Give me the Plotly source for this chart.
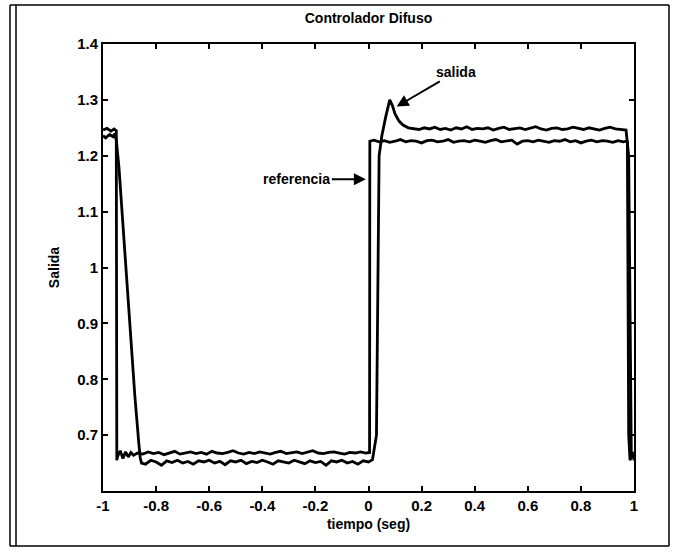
import plotly.graph_objects as go

# ---------------- data ----------------
ref_t = [-1.0, -0.985, -0.97, -0.958, -0.950, -0.948,
         -0.945, -0.935, -0.925, -0.915, -0.905, -0.895, -0.885, -0.87, -0.85, -0.83,
         -0.81, -0.79, -0.77, -0.75, -0.73, -0.71, -0.69, -0.67, -0.65, -0.63,
         -0.61, -0.59, -0.57, -0.55, -0.53, -0.51, -0.49, -0.47, -0.45, -0.43,
         -0.41, -0.39, -0.37, -0.35, -0.33, -0.31, -0.29, -0.27, -0.25, -0.23,
         -0.21, -0.19, -0.17, -0.15, -0.13, -0.11, -0.09, -0.07, -0.05, -0.03,
         -0.01, 0.004, 0.005,
         0.02, 0.04, 0.06, 0.08, 0.10, 0.12, 0.14, 0.16, 0.18, 0.20,
         0.22, 0.24, 0.26, 0.28, 0.30, 0.32, 0.34, 0.36, 0.38, 0.40,
         0.42, 0.44, 0.46, 0.48, 0.50, 0.52, 0.54, 0.56, 0.58, 0.60,
         0.62, 0.64, 0.66, 0.68, 0.70, 0.72, 0.74, 0.76, 0.78, 0.80,
         0.82, 0.84, 0.86, 0.88, 0.90, 0.92, 0.94, 0.96, 0.972,
         0.975, 0.98, 0.985, 0.99, 0.995, 1.0]
ref_y = [1.246, 1.249, 1.244, 1.248, 1.245, 0.655,
         0.662, 0.672, 0.658, 0.670, 0.661, 0.669, 0.664, 0.668, 0.666, 0.670,
         0.667, 0.669, 0.665, 0.668, 0.671, 0.666, 0.668, 0.670, 0.667, 0.669,
         0.666, 0.671, 0.668, 0.667, 0.669, 0.672, 0.668, 0.666, 0.669, 0.667,
         0.670, 0.668, 0.666, 0.669, 0.671, 0.667, 0.668, 0.670, 0.667, 0.669,
         0.672, 0.668, 0.667, 0.669, 0.670, 0.668, 0.666, 0.669, 0.668, 0.670,
         0.668, 0.669, 1.226,
         1.228, 1.225, 1.227, 1.224, 1.226, 1.229, 1.225, 1.227, 1.226, 1.223,
         1.227, 1.228, 1.225, 1.226, 1.229, 1.224, 1.226, 1.227, 1.225, 1.228,
         1.226, 1.224, 1.227, 1.229, 1.225, 1.226, 1.228, 1.221, 1.226, 1.227,
         1.225, 1.228, 1.226, 1.224, 1.227, 1.226, 1.229, 1.225, 1.227, 1.223,
         1.226, 1.228, 1.225, 1.227, 1.226, 1.224, 1.227, 1.225, 1.226,
         1.225, 0.700, 0.655, 0.662, 0.668, 0.660]

sal_t = [-1.0, -0.99, -0.975, -0.962, -0.955, -0.950, -0.94, -0.92, -0.90, -0.88,
         -0.865, -0.86, -0.855,
         -0.84, -0.82, -0.80, -0.78, -0.76, -0.74, -0.72, -0.70, -0.68, -0.66,
         -0.64, -0.62, -0.60, -0.58, -0.56, -0.54, -0.52, -0.50, -0.48, -0.46,
         -0.44, -0.42, -0.40, -0.38, -0.36, -0.34, -0.32, -0.30, -0.28, -0.26,
         -0.24, -0.22, -0.20, -0.18, -0.16, -0.14, -0.12, -0.10, -0.08, -0.06,
         -0.04, -0.02, 0.0, 0.015,
         0.03, 0.04, 0.05, 0.065, 0.08, 0.09, 0.10, 0.115, 0.13, 0.15,
         0.17, 0.19, 0.21, 0.23, 0.25, 0.27, 0.29, 0.31, 0.33, 0.35,
         0.37, 0.39, 0.41, 0.43, 0.45, 0.47, 0.49, 0.51, 0.53, 0.55,
         0.57, 0.59, 0.61, 0.63, 0.65, 0.67, 0.69, 0.71, 0.73, 0.75,
         0.77, 0.79, 0.81, 0.83, 0.85, 0.87, 0.89, 0.91, 0.93, 0.95, 0.97,
         0.98, 0.985, 0.99, 0.995, 1.0]
sal_y = [1.236, 1.232, 1.238, 1.234, 1.240, 1.228, 1.180, 1.040, 0.900, 0.770,
         0.685, 0.660, 0.650,
         0.648, 0.655, 0.652, 0.646, 0.654, 0.651, 0.655, 0.650, 0.653, 0.648,
         0.654, 0.652, 0.655, 0.650, 0.653, 0.647, 0.654, 0.652, 0.655, 0.649,
         0.653, 0.651, 0.655, 0.652, 0.648, 0.654, 0.652, 0.650, 0.655, 0.652,
         0.649, 0.654, 0.651, 0.653, 0.646, 0.654, 0.652, 0.655, 0.650, 0.653,
         0.648, 0.654, 0.652, 0.656,
         0.700, 1.200, 1.235, 1.270, 1.300, 1.290, 1.275, 1.262, 1.255, 1.250,
         1.249, 1.247, 1.250, 1.248, 1.251, 1.247, 1.249, 1.246, 1.250, 1.248,
         1.252, 1.247, 1.249, 1.248, 1.250, 1.246, 1.249, 1.251, 1.247, 1.248,
         1.250, 1.247, 1.249, 1.252, 1.248, 1.246, 1.249, 1.250, 1.247, 1.248,
         1.251, 1.249, 1.247, 1.250, 1.248, 1.246, 1.249, 1.251, 1.248, 1.247, 1.246,
         1.200, 0.850, 0.660, 0.670, 0.655]

x_ticks = [-1, -0.8, -0.6, -0.4, -0.2, 0, 0.2, 0.4, 0.6, 0.8, 1]
x_labels = ["-1", "-0.8", "-0.6", "-0.4", "-0.2", "0", "0.2", "0.4", "0.6", "0.8", "1"]
y_ticks = [0.7, 0.8, 0.9, 1.0, 1.1, 1.2, 1.3, 1.4]
y_labels = ["0.7", "0.8", "0.9", "1", "1.1", "1.2", "1.3", "1.4"]

# ---------------- figure ----------------
FONT = "Liberation Sans Narrow, Liberation Sans, Arial, sans-serif"
W, H = 673, 552
L, R, T, B = 103, 39, 44, 61

fig = go.Figure()
fig.add_trace(go.Scatter(x=ref_t, y=ref_y, mode="lines", name="referencia",
                         line=dict(color="black", width=2.8)))
fig.add_trace(go.Scatter(x=sal_t, y=sal_y, mode="lines", name="salida",
                         line=dict(color="black", width=2.8)))

axis_common = dict(showline=True, linecolor="black", linewidth=2, mirror="ticks",
                   ticks="inside", ticklen=5, tickwidth=2, tickcolor="black",
                   showgrid=False, zeroline=False,
                   tickfont=dict(family=FONT, size=15, color="black", weight="bold"))

fig.update_xaxes(range=[-1, 1], tickvals=x_ticks, ticktext=x_labels,
                 title=dict(text="tiempo (seg)", standoff=6,
                            font=dict(family=FONT, size=14, color="black", weight="bold")),
                 **axis_common)
fig.update_yaxes(range=[0.6, 1.4], tickvals=y_ticks, ticktext=y_labels,
                 title=dict(text="Salida", standoff=14,
                            font=dict(family=FONT, size=14, color="black", weight="bold")),
                 **axis_common)

fig.add_annotation(x=0.106, y=1.288, ax=0.33, ay=1.350, axref="x", ayref="y",
                   text="salida", showarrow=True, arrowhead=2, arrowsize=1.2,
                   arrowwidth=2, arrowcolor="black",
                   font=dict(family=FONT, size=14, color="black", weight="bold"))
fig.add_annotation(x=-0.01, y=1.158, ax=-0.27, ay=1.158, axref="x", ayref="y",
                   text="referencia", showarrow=True, arrowhead=2, arrowsize=1.2,
                   arrowwidth=2, arrowcolor="black",
                   font=dict(family=FONT, size=14, color="black", weight="bold"))


def px2paper_x(px):
    return (px - L) / (W - L - R)


def px2paper_y(py):
    return (H - B - py) / (H - T - B)


# scanned outer frame
frame = [(10, 5, 10, 546), (16, 5, 16, 546), (10, 5, 669, 5), (669, 5, 669, 546), (10, 546, 669, 546)]
for x0, y0, x1, y1 in frame:
    fig.add_shape(type="line", xref="paper", yref="paper",
                  x0=px2paper_x(x0), y0=px2paper_y(y0), x1=px2paper_x(x1), y1=px2paper_y(y1),
                  line=dict(color="black", width=1.5))

fig.update_layout(
    width=W, height=H,
    margin=dict(l=L, r=R, t=T, b=B),
    paper_bgcolor="white", plot_bgcolor="white",
    showlegend=False,
    title=dict(text="Controlador Difuso", x=(L + (W - L - R) / 2) / W, xanchor="center",
               y=1 - 18 / H, yanchor="middle",
               font=dict(family=FONT, size=14, color="black", weight="bold")),
)

fig.write_html("out.html")
